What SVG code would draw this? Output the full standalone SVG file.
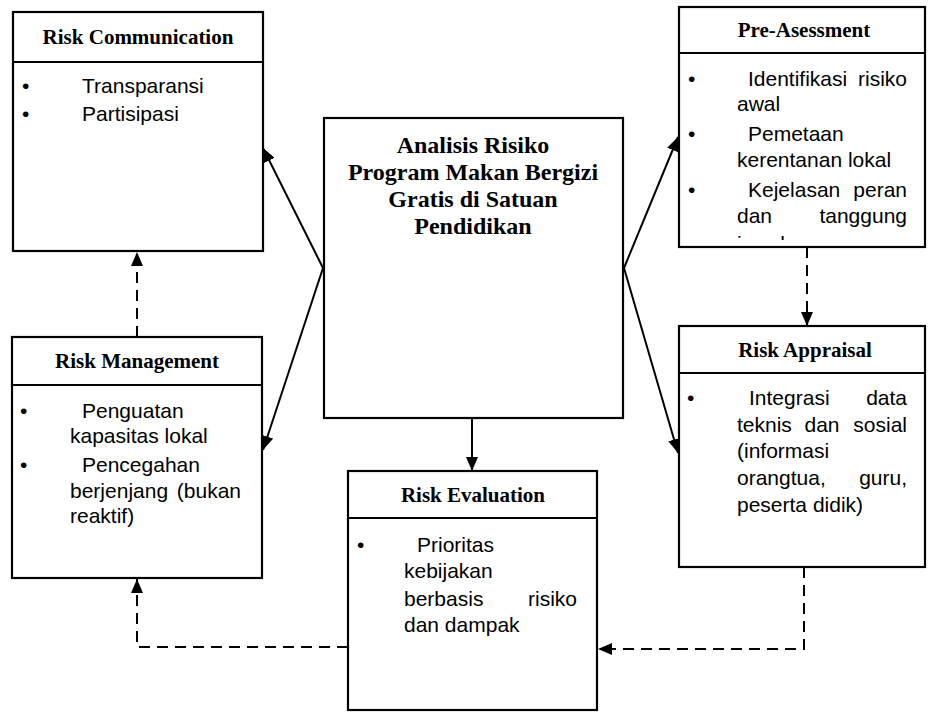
<svg xmlns="http://www.w3.org/2000/svg" width="928" height="712" viewBox="0 0 928 712">
<style>
.box{fill:#fff;stroke:#000;stroke-width:2.2}
.div{stroke:#000;stroke-width:2.2}
.ttl{font-family:"Liberation Serif","Times New Roman",serif;font-weight:bold;font-size:21px;fill:#000;text-anchor:middle}
.main{font-family:"Liberation Serif","Times New Roman",serif;font-weight:bold;font-size:24px;fill:#000;text-anchor:middle}
.b{font-family:"Liberation Sans",Arial,sans-serif;font-size:21px;fill:#000}
.e{text-anchor:end}
.m{text-anchor:middle}
.ln{fill:none;stroke:#000;stroke-width:2}
.dash{stroke-dasharray:11 7}
</style>
<defs>
<marker id="ah" markerUnits="userSpaceOnUse" markerWidth="15" markerHeight="12" refX="14" refY="6" orient="auto">
<path d="M0,0 L14,6 L0,12 z" fill="#000" stroke="none"/>
</marker>
<clipPath id="paclip"><rect x="680" y="54" width="245" height="186"/></clipPath>
</defs>

<g id="connectors">
<line class="ln" x1="323" y1="268" x2="263" y2="148" marker-end="url(#ah)"/>
<line class="ln" x1="323" y1="268" x2="263" y2="450" marker-end="url(#ah)"/>
<line class="ln" x1="624" y1="268" x2="678" y2="137" marker-end="url(#ah)"/>
<line class="ln" x1="624" y1="268" x2="678" y2="453" marker-end="url(#ah)"/>
<line class="ln" x1="472" y1="418" x2="472" y2="471" marker-end="url(#ah)"/>
<polyline class="ln dash" points="807,247 807,326" marker-end="url(#ah)"/>
<polyline class="ln dash" points="804,567 804,649 598,649" marker-end="url(#ah)"/>
<polyline class="ln dash" points="348,647 137,647 137,579" marker-end="url(#ah)"/>
<polyline class="ln dash" points="137,337 137,252" marker-end="url(#ah)"/>
</g>

<g id="risk-communication">
<rect class="box" x="13" y="12" width="250" height="239"/>
<line class="div" x1="13" y1="62" x2="263" y2="62"/>
<text class="ttl" x="138" y="44">Risk Communication</text>
<text class="b" x="22" y="93">•</text>
<text class="b" x="82" y="93">Transparansi</text>
<text class="b" x="22" y="121">•</text>
<text class="b" x="82" y="121">Partisipasi</text>
</g>

<g id="pre-asessment">
<rect class="box" x="679" y="7" width="246" height="240"/>
<line class="div" x1="679" y1="53" x2="925" y2="53"/>
<text class="ttl" x="804" y="37">Pre-Asessment</text>
<g clip-path="url(#paclip)">
<text class="b" x="688" y="86">•</text>
<text class="b" x="748" y="86">Identifikasi</text>
<text class="b e" x="907" y="86">risiko</text>
<text class="b" x="737" y="111">awal</text>
<text class="b" x="688" y="141">•</text>
<text class="b" x="748" y="141">Pemetaan</text>
<text class="b" x="737" y="167">kerentanan lokal</text>
<text class="b" x="688" y="197">•</text>
<text class="b" x="748" y="197">Kejelasan</text>
<text class="b e" x="907" y="197">peran</text>
<text class="b" x="737" y="223">dan</text>
<text class="b e" x="907" y="223">tanggung</text>
<text class="b" x="737" y="251">jawab</text>
</g>
</g>

<g id="analisis-risiko">
<rect class="box" x="324" y="118" width="299" height="300"/>
<text class="main" x="473" y="153">Analisis Risiko</text>
<text class="main" x="473" y="180">Program Makan Bergizi</text>
<text class="main" x="473" y="207">Gratis di Satuan</text>
<text class="main" x="473" y="234">Pendidikan</text>
</g>

<g id="risk-management">
<rect class="box" x="12" y="337" width="250" height="241"/>
<line class="div" x1="12" y1="385" x2="262" y2="385"/>
<text class="ttl" x="137" y="368">Risk Management</text>
<text class="b" x="20" y="418">•</text>
<text class="b" x="82" y="418">Penguatan</text>
<text class="b" x="70" y="443">kapasitas lokal</text>
<text class="b" x="20" y="472">•</text>
<text class="b" x="82" y="472">Pencegahan</text>
<text class="b" x="70" y="498">berjenjang</text>
<text class="b e" x="241" y="498">(bukan</text>
<text class="b" x="70" y="523">reaktif)</text>
</g>

<g id="risk-appraisal">
<rect class="box" x="679" y="326" width="246" height="241"/>
<line class="div" x1="679" y1="373" x2="925" y2="373"/>
<text class="ttl" x="805" y="357">Risk Appraisal</text>
<text class="b" x="687" y="405">•</text>
<text class="b" x="749" y="405">Integrasi</text>
<text class="b e" x="907" y="405">data</text>
<text class="b" x="737" y="432">teknis</text>
<text class="b m" x="822" y="432">dan</text>
<text class="b e" x="907" y="432">sosial</text>
<text class="b" x="737" y="458">(informasi</text>
<text class="b" x="737" y="485">orangtua,</text>
<text class="b e" x="907" y="485">guru,</text>
<text class="b" x="737" y="512">peserta didik)</text>
</g>

<g id="risk-evaluation">
<rect class="box" x="348" y="471" width="249" height="239"/>
<line class="div" x1="348" y1="518" x2="597" y2="518"/>
<text class="ttl" x="473" y="502">Risk Evaluation</text>
<text class="b" x="357" y="552">•</text>
<text class="b" x="417" y="552">Prioritas</text>
<text class="b" x="404" y="578">kebijakan</text>
<text class="b" x="404" y="606">berbasis</text>
<text class="b e" x="577" y="606">risiko</text>
<text class="b" x="404" y="632">dan dampak</text>
</g>
</svg>
